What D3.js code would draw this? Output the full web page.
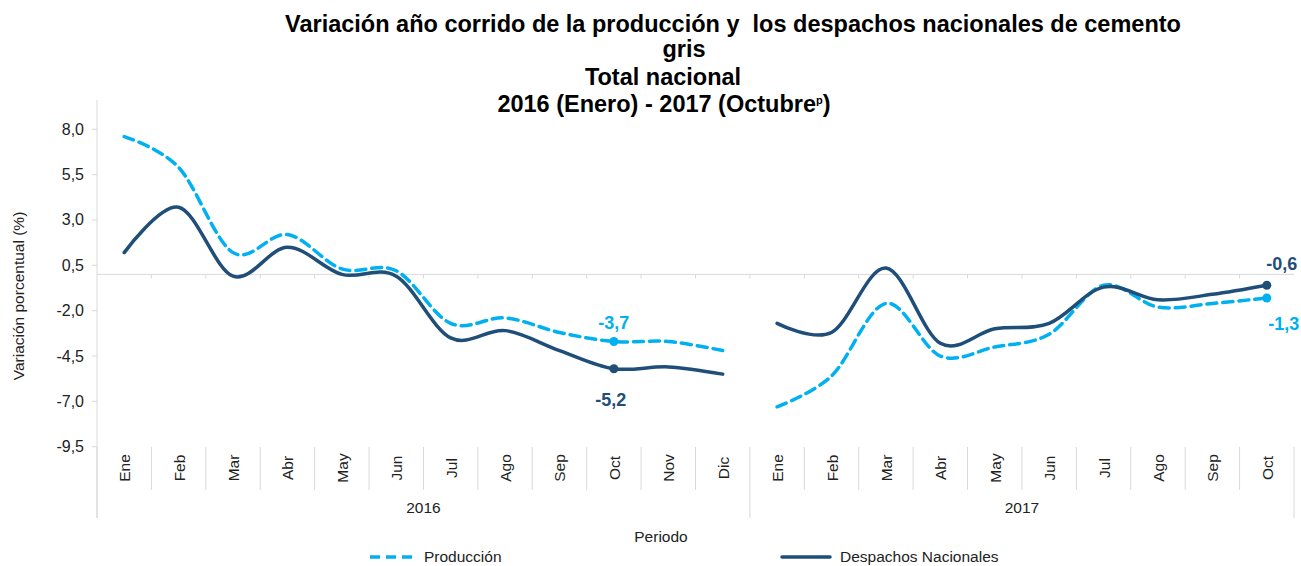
<html>
<head>
<meta charset="utf-8">
<script src="https://d3js.org/d3.v7.min.js"></script>
<style>
  body { margin: 0; background: #fff; }
  text { font-family: "Liberation Sans", Arial, sans-serif; white-space: pre; }
</style>
</head>
<body>
<div id="chart"><svg width="1301" height="566"></svg></div>
<script>
// datos
var years = ["2016", "2017"]
var months2016 = ["Ene", "Feb", "Mar", "Abr", "May", "Jun", "Jul", "Ago", "Sep", "Oct", "Nov", "Dic"]
var months2017 = ["Ene", "Feb", "Mar", "Abr", "May", "Jun", "Jul", "Ago", "Sep", "Oct"]
var prod2016 = [7.6, 5.9, 1.2, 2.2, 0.3, 0.2, -2.7, -2.4, -3.2, -3.7, -3.7, -4.2]
var desp2016 = [1.2, 3.7, -0.1, 1.5, 0.0, -0.1, -3.5, -3.1, -4.2, -5.2, -5.1, -5.5]
var prod2017 = [-7.3, -5.6, -1.6, -4.5, -4.0, -3.3, -0.6, -1.8, -1.6, -1.3]
var desp2017 = [-2.7, -3.2, 0.35, -3.8, -3.0, -2.7, -0.7, -1.4, -1.1, -0.6]
var yTicks = [8.0, 5.5, 3.0, 0.5, -2.0, -4.5, -7.0, -9.5]
var titleLines = ["Variación año corrido de la producción y  los despachos nacionales de cemento", "gris", "Total nacional"]

var colorProd = "#00b0f0"
var colorDesp = "#1f4e79"
var gridColor = "#d9d9d9"
var txtSize = 15.5

var svg = d3.select("#chart svg")
var left = 97, right = 1294

// categorias: 2016-Ene ... 2017-Oct
var cats = months2016.map(function(m) { return "2016-" + m })
    .concat(months2017.map(function(m) { return "2017-" + m }))

var x = d3.scaleBand().domain(cats).range([left, right])
var yScale = d3.scaleLinear().domain([-9.5, 8.0]).range([446.7, 129.3])

function fmt(v) { return v.toFixed(1).replace(".", ",") }

// titulo
var title = svg.append("g").attr("font-weight", "bold").attr("font-size", 23.5).attr("fill", "#000")
title.append("text").attr("x", 733).attr("y", 32).attr("text-anchor", "middle").text(titleLines[0])
title.append("text").attr("x", 684).attr("y", 57).attr("text-anchor", "middle").text(titleLines[1])
title.append("text").attr("x", 663).attr("y", 85).attr("text-anchor", "middle").text(titleLines[2])
var t4 = title.append("text").attr("x", 664).attr("y", 112).attr("text-anchor", "middle")
t4.append("tspan").text("2016 (Enero) - 2017 (Octubre")
t4.append("tspan").attr("font-size", 11).attr("dy", -8).text("p")
t4.append("tspan").attr("dy", 8).text(")")

// eje y
svg.append("line")
    .attr("x1", left).attr("x2", left).attr("y1", 100).attr("y2", 518)
    .attr("stroke", gridColor)
var yAxis = svg.append("g")
yAxis.selectAll("line").data(yTicks).enter().append("line")
    .attr("x1", left - 5).attr("x2", left)
    .attr("y1", function(d) { return yScale(d) }).attr("y2", function(d) { return yScale(d) })
    .attr("stroke", gridColor)
yAxis.selectAll("text").data(yTicks).enter().append("text")
    .attr("x", 84).attr("y", function(d) { return yScale(d) + 5.5 })
    .attr("text-anchor", "end").attr("font-size", 16).attr("fill", "#222")
    .text(fmt)

svg.append("text")
    .attr("transform", "translate(24,296) rotate(-90)")
    .attr("text-anchor", "middle").attr("font-size", txtSize).attr("fill", "#222")
    .text("Variación porcentual (%)")

// eje de categorias en cero
svg.append("line")
    .attr("x1", left).attr("x2", right).attr("y1", yScale(0)).attr("y2", yScale(0))
    .attr("stroke", gridColor)
svg.selectAll(".zt").data(cats.slice(1)).enter().append("line")
    .attr("x1", function(d) { return x(d) }).attr("x2", function(d) { return x(d) })
    .attr("y1", yScale(0)).attr("y2", yScale(0) + 4)
    .attr("stroke", gridColor)

// etiquetas de meses (multinivel)
svg.selectAll(".sep").data(cats.concat(["end"])).enter().append("line")
    .attr("x1", function(d) { return d == "end" ? right : x(d) })
    .attr("x2", function(d) { return d == "end" ? right : x(d) })
    .attr("y1", 447)
    .attr("y2", function(d) { return (d == "end" || d == "2016-Ene" || d == "2017-Ene") ? 518 : 490 })
    .attr("stroke", gridColor)

svg.selectAll(".mes").data(cats).enter().append("text")
    .attr("transform", function(d) {
        return "translate(" + (x(d) + x.bandwidth() / 2 + 6) + ",468) rotate(-90)"
    })
    .attr("text-anchor", "middle").attr("font-size", txtSize).attr("fill", "#222")
    .text(function(d) { return d.split("-")[1] })

svg.selectAll(".anio").data(years).enter().append("text")
    .attr("x", function(d) {
        var ms = d == "2016" ? months2016 : months2017
        return (x(d + "-" + ms[0]) + x(d + "-" + ms[ms.length - 1]) + x.bandwidth()) / 2
    })
    .attr("y", 513).attr("text-anchor", "middle").attr("font-size", txtSize).attr("fill", "#222")
    .text(function(d) { return d })

svg.append("text").attr("x", 661).attr("y", 542)
    .attr("text-anchor", "middle").attr("font-size", txtSize).attr("fill", "#222")
    .text("Periodo")

// lineas
var line = d3.line()
    .x(function(d) { return x(d.c) + x.bandwidth() / 2 })
    .y(function(d) { return yScale(d.v) })
    .curve(d3.curveCardinal.tension(0))

function toPts(yr, months, vals) {
    return months.map(function(m, i) { return { c: yr + "-" + m, v: vals[i] } })
}

var series = [
    { pts: toPts("2016", months2016, prod2016), color: colorProd, dash: "10,6" },
    { pts: toPts("2017", months2017, prod2017), color: colorProd, dash: "10,6" },
    { pts: toPts("2016", months2016, desp2016), color: colorDesp, dash: null },
    { pts: toPts("2017", months2017, desp2017), color: colorDesp, dash: null }
]

svg.selectAll(".serie").data(series).enter().append("path")
    .attr("d", function(d) { return line(d.pts) })
    .attr("fill", "none")
    .attr("stroke", function(d) { return d.color })
    .attr("stroke-width", 3.5)
    .attr("stroke-linecap", "round")
    .attr("stroke-dasharray", function(d) { return d.dash })

// puntos y etiquetas de datos
var marks = [
    { c: "2016-Oct", v: prod2016[9], color: colorProd, dx: 0, dy: -19 },
    { c: "2016-Oct", v: desp2016[9], color: colorDesp, dx: -3, dy: 31 },
    { c: "2017-Oct", v: desp2017[9], color: colorDesp, dx: 15, dy: -21 },
    { c: "2017-Oct", v: prod2017[9], color: colorProd, dx: 17, dy: 26 }
]
svg.selectAll(".pt").data(marks).enter().append("circle")
    .attr("cx", function(d) { return x(d.c) + x.bandwidth() / 2 })
    .attr("cy", function(d) { return yScale(d.v) })
    .attr("r", 4.5)
    .attr("fill", function(d) { return d.color })
svg.selectAll(".lbl").data(marks).enter().append("text")
    .attr("x", function(d) { return x(d.c) + x.bandwidth() / 2 + d.dx })
    .attr("y", function(d) { return yScale(d.v) + d.dy + 6 })
    .attr("text-anchor", "middle").attr("font-size", 18).attr("font-weight", "bold")
    .attr("fill", function(d) { return d.color })
    .text(function(d) { return fmt(d.v) })

// leyenda
var legend = svg.append("g")
legend.append("line").attr("x1", 370).attr("x2", 412).attr("y1", 557).attr("y2", 557)
    .attr("stroke", colorProd).attr("stroke-width", 3.5).attr("stroke-dasharray", "10,6")
legend.append("text").attr("x", 424).attr("y", 562).attr("font-size", txtSize).attr("fill", "#222").text("Producción")
legend.append("line").attr("x1", 782).attr("x2", 830).attr("y1", 557).attr("y2", 557)
    .attr("stroke", colorDesp).attr("stroke-width", 3.5).attr("stroke-linecap", "round")
legend.append("text").attr("x", 840).attr("y", 562).attr("font-size", txtSize).attr("fill", "#222").text("Despachos Nacionales")
</script>
</body>
</html>
